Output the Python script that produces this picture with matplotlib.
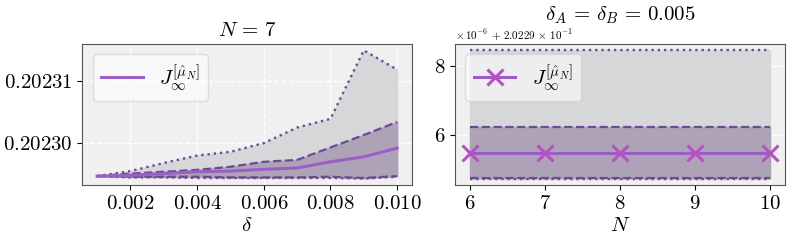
import numpy as np
import matplotlib
matplotlib.use('Agg')
import matplotlib.pyplot as plt
from matplotlib.ticker import MultipleLocator, ScalarFormatter

# 字体设置, 仿 LaTeX
plt.rcParams['font.family'] = 'serif'
plt.rcParams['font.serif'] = ['cmr10']
plt.rcParams['mathtext.fontset'] = 'cm'
plt.rcParams['axes.formatter.use_mathtext'] = True
plt.rcParams['axes.unicode_minus'] = False

# 左图: N = 7, 横轴 delta
delta = [0.001, 0.002, 0.003, 0.004, 0.005, 0.006, 0.007, 0.008, 0.009, 0.010]
mean_d = [0.2022947, 0.2022948, 0.2022951, 0.2022954, 0.2022955, 0.2022958, 0.2022960, 0.2022970, 0.2022978, 0.2022992]
dash_hi_d = [0.2022947, 0.2022951, 0.2022954, 0.2022957, 0.2022962, 0.2022970, 0.2022973, 0.2022993, 0.2023013, 0.2023034]
dash_lo_d = [0.2022947, 0.2022946, 0.2022946, 0.2022946, 0.2022945, 0.2022945, 0.2022945, 0.2022946, 0.2022944, 0.2022947]
dot_hi_d = [0.2022947, 0.2022955, 0.2022968, 0.2022980, 0.2022986, 0.2023000, 0.2023025, 0.2023039, 0.2023149, 0.2023118]
dot_lo_d = [0.2022947, 0.2022945, 0.2022945, 0.2022944, 0.2022944, 0.2022944, 0.2022944, 0.2022944, 0.2022943, 0.2022946]

# 右图: delta_A = delta_B = 0.005, 横轴 N
N = [6, 7, 8, 9, 10]
mean_n = [0.20229546, 0.20229546, 0.20229546, 0.20229546, 0.20229546]
dash_hi_n = [0.20229622, 0.20229622, 0.20229622, 0.20229622, 0.20229622]
dash_lo_n = [0.20229475, 0.20229475, 0.20229475, 0.20229475, 0.20229475]
dot_hi_n = [0.20229846, 0.20229846, 0.20229846, 0.20229846, 0.20229846]
dot_lo_n = [0.20229473, 0.20229473, 0.20229473, 0.20229473, 0.20229473]

line_c = '#9a5fc7'
edge_c = '#6a4b94'
label = r'$J_\infty^{[\hat{\mu}_N]}$'


# 偏移文字加上空格, 仿 LaTeX 输出
class SpacedFormatter(ScalarFormatter):
    def get_offset(self):
        return r'$\times\,10^{-6}\,+\,2.0229\,\times\,10^{-1}$'


fig, axes = plt.subplots(1, 2, figsize=(7.97, 2.47), dpi=100)
plt.subplots_adjust(left=0.103, right=0.985, bottom=0.251, top=0.822, wspace=0.13)


def draw(ax, x, mean, dhi, dlo, ohi, olo, marker=None):
    ax.set_facecolor('#f0f0f0')
    ax.grid(True, color='white', linestyle='--', linewidth=1)
    ax.set_axisbelow(True)
    ax.fill_between(x, olo, ohi, color='#d7d7da', zorder=1)
    ax.fill_between(x, dlo, dhi, color='#aea3b6', zorder=1)
    ax.plot(x, ohi, ':', color=edge_c, lw=1.7, zorder=2)
    ax.plot(x, olo, ':', color=edge_c, lw=1.7, zorder=2)
    ax.plot(x, dhi, '--', color=edge_c, lw=1.6, zorder=2)
    ax.plot(x, dlo, '--', color=edge_c, lw=1.6, zorder=2)
    if marker:
        ax.plot(x, mean, color=line_c, lw=2.2, marker=marker, ms=11, mew=2.2,
                mec='#b84fc8', label=label, zorder=3)
    else:
        ax.plot(x, mean, color=line_c, lw=2.2, label=label, zorder=3)
    for s in ax.spines.values():
        s.set_color('#555555')
    ax.tick_params(labelsize=15, colors='black')
    ax.legend(loc='upper left', fontsize=15, framealpha=0.6)


ax = axes[0]
draw(ax, delta, mean_d, dash_hi_d, dash_lo_d, dot_hi_d, dot_lo_d)
ax.yaxis.set_major_locator(MultipleLocator(1e-5))
ax.ticklabel_format(axis='y', useOffset=False)
ax.set_title(r'$N\,=\,7$', fontsize=15)
ax.set_xlabel(r'$\delta$', fontsize=15, labelpad=3)

ax = axes[1]
draw(ax, N, mean_n, dash_hi_n, dash_lo_n, dot_hi_n, dot_lo_n, marker='x')
ax.yaxis.set_major_locator(MultipleLocator(2e-6))
ax.yaxis.set_major_formatter(SpacedFormatter(useMathText=True))
ax.set_xticks(N)
ax.yaxis.get_offset_text().set_fontsize(8)
ax.set_title(r'$\delta_A\,=\,\delta_B\,=\,0.005$', fontsize=15)
ax.set_xlabel(r'$N$', fontsize=15, labelpad=3)

plt.savefig('out.png', dpi=100)
